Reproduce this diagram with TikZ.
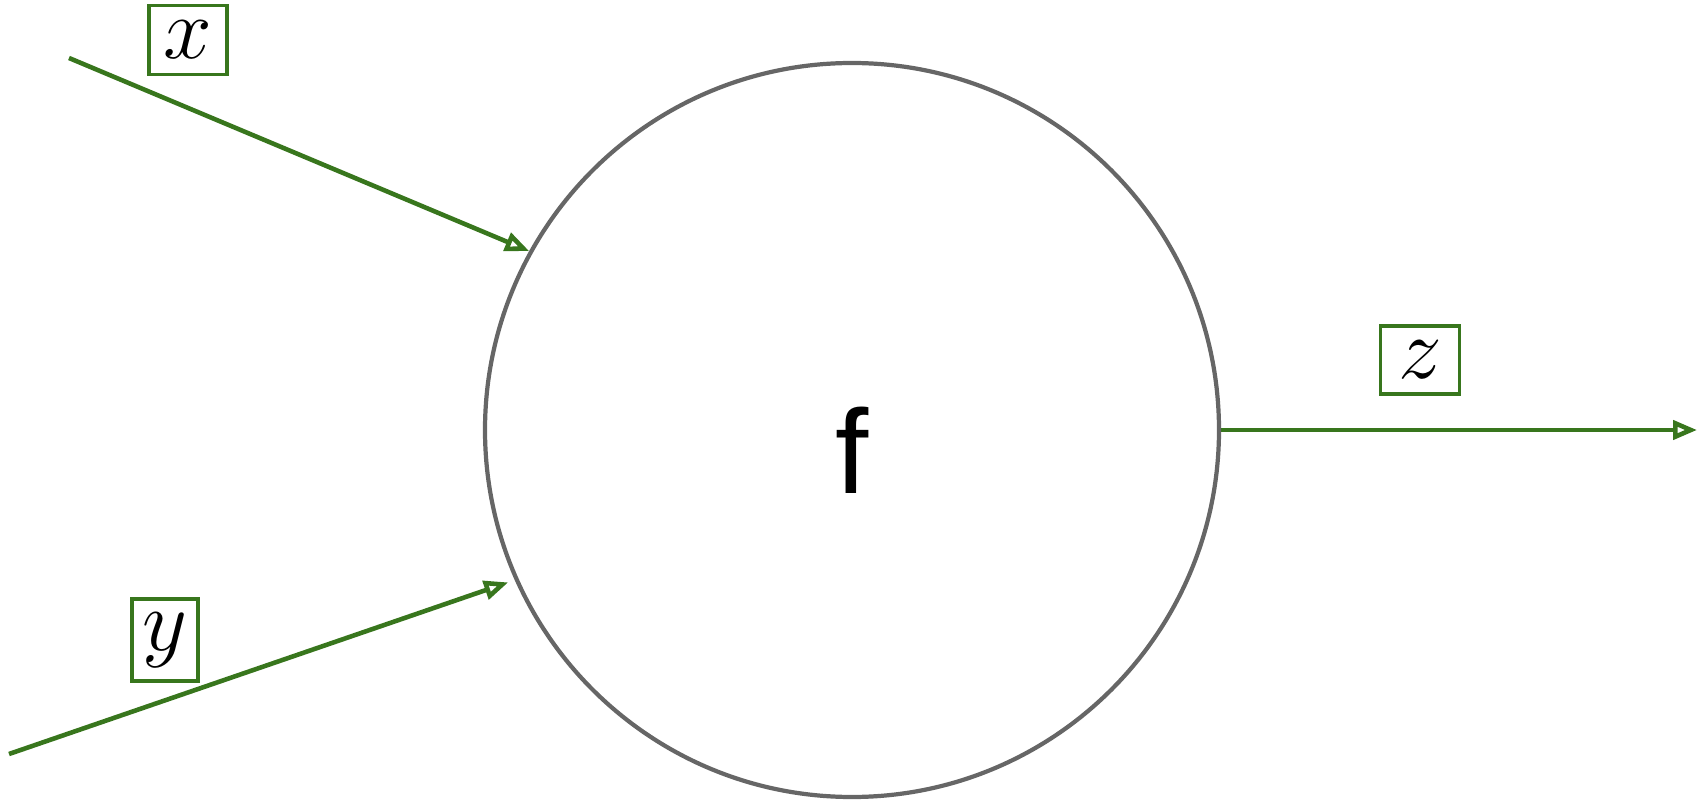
\documentclass[tikz,border=0pt]{standalone}
\usepackage{fontspec}
\setmainfont{Liberation Sans}
\usetikzlibrary{arrows.meta, positioning}
\definecolor{wiregreen}{RGB}{56,118,29}
\definecolor{ringgray}{RGB}{102,102,102}

\begin{document}
\begin{tikzpicture}[
    var/.style={draw=wiregreen, line width=1.1pt, fill=white, inner sep=0pt, font=\fontsize{26}{30}\selectfont},
    wire/.style={wiregreen, line width=1.3pt, -{Triangle[open, length=0.24cm, width=0.19cm]}}
]
    \useasboundingbox (0,0) rectangle (17.08,7.99);

    % function node
    \node[draw=ringgray, line width=1.2pt, circle, minimum size=7.34cm, inner sep=0pt,
          text height=1.27cm, text depth=0pt, font=\fontsize{34}{40}\selectfont] (f) at (8.52,3.69) {f};

    % free ends of the wires
    \coordinate (xin) at (0.69,7.41);
    \coordinate (yin) at (0.09,0.45);
    \coordinate (zout) at (16.97,3.69);

    \draw[wire] (xin) -- (f.151);
    \draw[wire, shorten >=2pt] (yin) -- (f.204);
    \draw[wire] (f.east) -- (zout);

    % variable labels
    \node[var, minimum width=0.78cm, minimum height=0.69cm] (xlab) at (1.88,7.59) {$x$};
    \node[var, minimum width=0.66cm, minimum height=0.82cm] (ylab) at (1.65,1.59) {$y$};
    \node[var, minimum width=0.79cm, minimum height=0.68cm] (zlab) at (14.2,4.39) {$z$};
\end{tikzpicture}
\end{document}
